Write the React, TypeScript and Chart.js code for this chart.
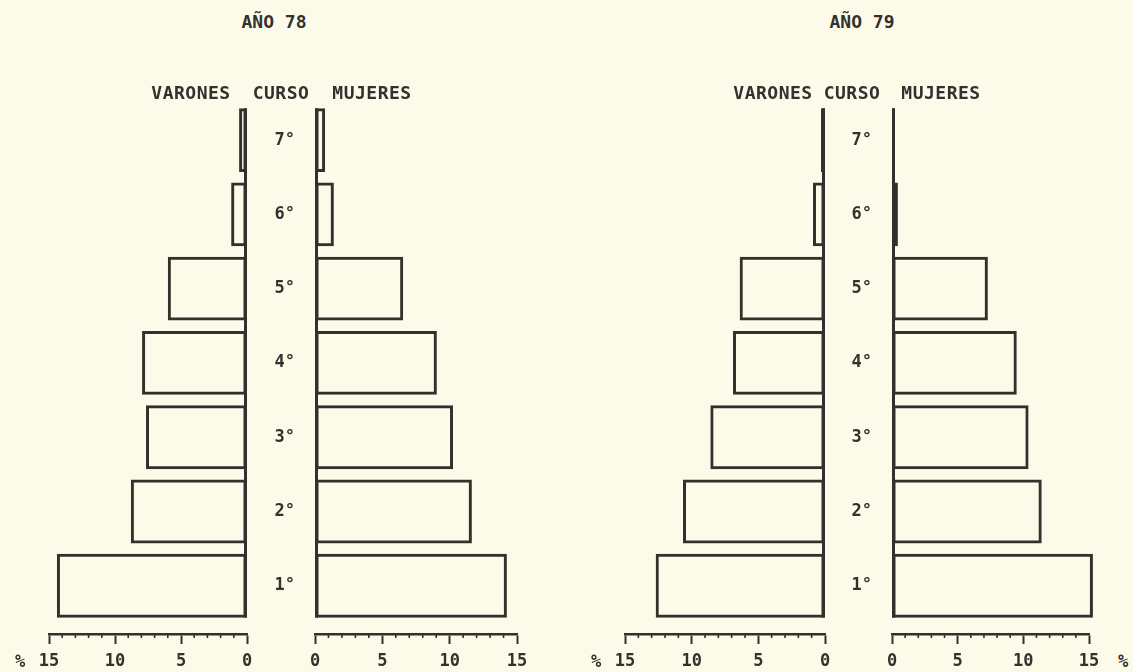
import React, { useEffect, useRef } from 'react';
import { Chart, registerables } from 'chart.js';

Chart.register(...registerables);

// ---- data ----
const CURSOS = ['1°', '2°', '3°', '4°', '5°', '6°', '7°'];
const VARONES_78 = [14.4, 8.8, 7.65, 7.95, 6.0, 1.2, 0.6];
const MUJERES_78 = [14.25, 11.65, 10.25, 9.05, 6.55, 1.4, 0.75];
const VARONES_79 = [12.7, 10.65, 8.6, 6.9, 6.4, 0.9, 0.3];
const MUJERES_79 = [15.3, 11.4, 10.4, 9.5, 7.3, 0.45, 0.2];
const X_TICK_LABELS = [0, 5, 10, 15];
const TITLES = ['AÑO 78', 'AÑO 79'];
const HEADERS = ['VARONES', 'CURSO', 'MUJERES'];
const UNIT = '%';

// ---- style ----
const INK = '#32312d';
const PAPER = '#fcfbea';
const FONT = "'DejaVu Sans Mono', monospace";
const X_MIN = 0;
const X_MAX = 15;
const Y_MIN = -0.65;
const Y_MAX = 6.5;
const CANVAS_TOP = 71;
const CANVAS_H = 597;

const minorTicksPlugin = {
  id: 'minorTicks',
  afterDraw(chart: any) {
    const s = chart.scales.x;
    const ctx = chart.ctx;
    ctx.save();
    ctx.strokeStyle = INK;
    ctx.lineWidth = 1.6;
    s.ticks.forEach((t: any) => {
      if (t.value % 5 === 0) return;
      const x = s.getPixelForValue(t.value);
      ctx.beginPath();
      ctx.moveTo(x, s.top);
      ctx.lineTo(x, s.top + 4);
      ctx.stroke();
    });
    ctx.restore();
  },
};

const spinePlugin = {
  id: 'spine',
  afterDatasetsDraw(chart: any, _args: any, opts: any) {
    const meta = chart.getDatasetMeta(0);
    let top = Infinity;
    let bottom = -Infinity;
    meta.data.forEach((b: any) => {
      const p = b.getProps(['y', 'height'], true);
      top = Math.min(top, p.y - p.height / 2);
      bottom = Math.max(bottom, p.y + p.height / 2);
    });
    const x0 = chart.scales.x.getPixelForValue(0);
    const w = 3;
    const ctx = chart.ctx;
    ctx.save();
    ctx.fillStyle = INK;
    ctx.fillRect(opts.dir < 0 ? x0 - w : x0, top, w, bottom - top);
    ctx.restore();
  },
};

type SideProps = {
  values: number[];
  male: boolean;
  left: number;
  width: number;
  padLeft: number;
  padRight: number;
  catWidth: number;
};

function Side({ values, male, left, width, padLeft, padRight, catWidth }: SideProps) {
  const ref = useRef<HTMLCanvasElement>(null);
  useEffect(() => {
    const chart = new Chart(ref.current as HTMLCanvasElement, {
      type: 'bar',
      data: {
        datasets: [
          {
            data: values.map((v, i) => ({ x: v, y: i })),
            backgroundColor: 'rgba(0,0,0,0)',
            borderColor: INK,
            borderWidth: 3,
            borderSkipped: false,
            barPercentage: 0.86,
            categoryPercentage: 1,
            clip: false,
          } as any,
        ],
      },
      options: {
        indexAxis: 'y',
        animation: false,
        responsive: false,
        maintainAspectRatio: false,
        events: [],
        layout: { padding: { left: padLeft, right: padRight, top: 32, bottom: 0 } },
        plugins: {
          legend: { display: false },
          tooltip: { enabled: false },
          spine: { dir: male ? -1 : 1 },
        } as any,
        scales: {
          x: {
            type: 'linear',
            min: X_MIN,
            max: X_MAX,
            reverse: male,
            offset: false,
            position: 'bottom',
            afterFit: (s: any) => {
              s.height = 34;
            },
            border: { display: true, color: INK, width: 2.5 },
            grid: {
              drawOnChartArea: false,
              drawTicks: true,
              tickLength: 10,
              tickWidth: 2,
              tickColor: (c: any) => (c.tick && c.tick.value % 5 === 0 ? INK : 'rgba(0,0,0,0)'),
            },
            ticks: {
              stepSize: 1,
              autoSkip: false,
              maxRotation: 0,
              minRotation: 0,
              padding: 7,
              color: INK,
              font: { family: FONT, size: 17, weight: 'bold' },
              callback: (v: any) => (X_TICK_LABELS.includes(Number(v)) ? String(v) : ''),
            },
          },
          y: {
            type: 'linear',
            min: Y_MIN,
            max: Y_MAX,
            offset: false,
            display: !male,
            position: 'left',
            afterFit: (s: any) => {
              s.width = catWidth;
            },
            border: { display: false },
            grid: { display: false, drawTicks: false, offset: false },
            ticks: {
              stepSize: 1,
              includeBounds: false,
              autoSkip: false,
              crossAlign: 'center',
              padding: 20,
              color: INK,
              font: { family: FONT, size: 17, weight: 'bold' },
              callback: (v: any) => {
                const n = Number(v);
                return Number.isInteger(n) && CURSOS[n] ? CURSOS[n] : '';
              },
            },
          },
        },
      } as any,
      plugins: [minorTicksPlugin, spinePlugin],
    });
    return () => chart.destroy();
  }, []);
  return (
    <canvas
      ref={ref}
      width={width}
      height={CANVAS_H}
      style={{ position: 'absolute', left, top: CANVAS_TOP, width, height: CANVAS_H }}
    />
  );
}

const txt = (x: number, y: number, size: number, bold: boolean, spacing = 0): React.CSSProperties => ({
  position: 'absolute',
  left: x,
  top: y,
  transform: 'translate(-50%, -50%)',
  fontFamily: FONT,
  fontSize: size,
  fontWeight: bold ? 'bold' : 'normal',
  letterSpacing: spacing,
  color: INK,
  whiteSpace: 'pre',
  lineHeight: 1,
});

export default function App() {
  return (
    <div
      style={{
        position: 'absolute',
        left: 0,
        top: 0,
        width: 1133,
        height: 672,
        background: PAPER,
        overflow: 'hidden',
      }}
    >
      {/* AÑO 78 */}
      <Side values={VARONES_78} male={true} left={4} width={257} padLeft={45} padRight={14} catWidth={0} />
      <Side values={MUJERES_78} male={false} left={247} width={292} padLeft={0} padRight={22} catWidth={68} />
      {/* AÑO 79 */}
      <Side values={VARONES_79} male={true} left={580} width={259} padLeft={45} padRight={14} catWidth={0} />
      <Side values={MUJERES_79} male={false} left={825} width={286} padLeft={0} padRight={22} catWidth={67} />

      <div style={txt(274, 22, 18, true)}>{TITLES[0]}</div>
      <div style={txt(862, 22, 18, true)}>{TITLES[1]}</div>

      <div style={txt(191, 93, 18, true, 0.5)}>{HEADERS[0]}</div>
      <div style={txt(281, 93, 18, true, 0.5)}>{HEADERS[1]}</div>
      <div style={txt(372, 93, 18, true, 0.5)}>{HEADERS[2]}</div>
      <div style={txt(773, 93, 18, true, 0.5)}>{HEADERS[0]}</div>
      <div style={txt(852, 93, 18, true, 0.5)}>{HEADERS[1]}</div>
      <div style={txt(941, 93, 18, true, 0.5)}>{HEADERS[2]}</div>

      <div style={txt(20, 661, 17, true)}>{UNIT}</div>
      <div style={txt(596, 661, 17, true)}>{UNIT}</div>
      <div style={txt(1123, 661, 17, true)}>{UNIT}</div>
    </div>
  );
}
